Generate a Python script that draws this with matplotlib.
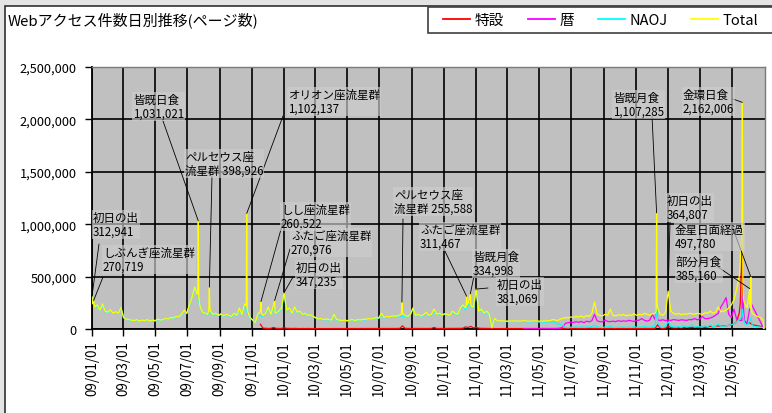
import matplotlib
matplotlib.use('Agg')
import matplotlib.pyplot as plt
import matplotlib.dates as mdates
from matplotlib.lines import Line2D
from matplotlib.patches import Rectangle
from matplotlib.ticker import FuncFormatter, MultipleLocator
import numpy as np
import pandas as pd

plt.rcParams['font.family'] = ['Noto Sans CJK JP', 'DejaVu Sans']

W, H = 772, 414

# ---- daily page-view data (thousands), sampled every 5 days ----
STEP = '5D'

total_start = '2009-01-01'
total_k = [
    313, 210, 230, 180, 240, 170, 160, 185, 150, 165,
    150, 205, 110, 95, 90, 85, 80, 90, 75, 85,
    80, 90, 75, 85, 80, 95, 85, 90, 100, 95,
    110, 105, 120, 115, 140, 180, 150, 230, 300, 400,
    330, 220, 160, 150, 140, 170, 140, 150, 130, 145,
    125, 140, 130, 120, 150, 130, 200, 140, 240, 160,
    110, 90, 60, 140, 170, 130, 150, 210, 140, 230,
    150, 170, 200, 347, 180, 200, 150, 210, 160, 170,
    140, 150, 130, 135, 120, 110, 95, 100, 90, 95,
    90, 85, 140, 90, 85, 80, 85, 80, 85, 90,
    80, 90, 85, 95, 90, 100, 95, 100, 110, 105,
    150, 110, 120, 115, 125, 120, 125, 135, 150, 130,
    120, 140, 200, 130, 140, 125, 135, 160, 130, 140,
    190, 140, 150, 135, 145, 140, 130, 170, 150, 140,
    200, 230, 200, 250, 240, 210, 381, 170, 190, 150,
    170, 140, 15, 100, 80, 75, 78, 75, 76, 75,
    78, 74, 76, 75, 80, 76, 74, 75, 76, 78,
    75, 76, 74, 80, 78, 90, 85, 80, 95, 100,
    110, 105, 115, 110, 120, 115, 125, 110, 130, 120,
    150, 258, 140, 130, 125, 140, 130, 190, 130, 125,
    135, 130, 140, 125, 135, 130, 145, 130, 140, 135,
    150, 140, 130, 145, 150, 200, 140, 130, 160, 365,
    170, 150, 140, 150, 135, 145, 140, 150, 145, 140,
    150, 145, 140, 155, 150, 170, 150, 160, 210, 165,
    170, 180, 200, 230, 280, 380, 500, 900, 250, 200,
    385, 150, 130, 120, 110, 90,
]
# single-day peaks (date, page views)
total_events = [
    ('2009-01-01', 312941), ('2009-01-02', 240000), ('2009-01-04', 270719),
    ('2009-07-21', 380000), ('2009-07-22', 1031021), ('2009-07-23', 300000),
    ('2009-08-11', 180000), ('2009-08-12', 398926), ('2009-08-13', 200000),
    ('2009-10-21', 220000), ('2009-10-22', 1102137), ('2009-10-23', 180000),
    ('2009-11-18', 260522), ('2009-11-19', 150000),
    ('2009-12-14', 270976), ('2009-12-15', 160000),
    ('2010-01-01', 347235),
    ('2010-08-12', 140000), ('2010-08-13', 255588), ('2010-08-14', 150000),
    ('2010-12-13', 220000), ('2010-12-14', 311467), ('2010-12-15', 230000),
    ('2010-12-21', 334998), ('2010-12-22', 220000),
    ('2011-01-01', 381069),
    ('2011-12-09', 170000), ('2011-12-10', 1107285), ('2011-12-11', 250000),
    ('2012-01-01', 364807),
    ('2012-05-16', 550000), ('2012-05-17', 650000), ('2012-05-18', 800000),
    ('2012-05-19', 850000), ('2012-05-20', 900000), ('2012-05-21', 2162006),
    ('2012-05-22', 450000), ('2012-05-23', 280000),
    ('2012-06-04', 385160), ('2012-06-05', 200000), ('2012-06-06', 497780),
    ('2012-06-07', 180000),
    ('2012-06-30', 60000), ('2012-07-01', 3000),
]

naoj_start = '2009-01-01'
naoj_k = [
    310, 207, 226, 177, 236, 167, 157, 182, 147, 162,
    147, 201, 107, 92, 87, 82, 77, 87, 72, 82,
    77, 87, 72, 82, 77, 92, 82, 87, 97, 92,
    107, 102, 117, 112, 137, 177, 147, 226, 296, 396,
    326, 216, 156, 146, 136, 166, 136, 146, 126, 141,
    121, 136, 126, 116, 146, 126, 196, 136, 236, 156,
    106, 86, 56, 136, 125, 122, 144, 205, 134, 215,
    144, 165, 195, 335, 174, 195, 145, 204, 155, 166,
    136, 146, 126, 131, 116, 106, 91, 96, 86, 91,
    86, 81, 136, 86, 81, 76, 81, 76, 82, 86,
    76, 86, 81, 91, 86, 96, 91, 96, 106, 101,
    145, 106, 115, 111, 121, 115, 120, 129, 120, 124,
    115, 135, 195, 125, 134, 120, 130, 155, 125, 135,
    175, 135, 145, 130, 140, 135, 125, 164, 145, 134,
    193, 223, 180, 235, 215, 200, 366, 164, 184, 144,
    165, 135, 10, 95, 76, 71, 74, 71, 72, 71,
    74, 70, 72, 71, 74, 70, 68, 70, 70, 72,
    66, 68, 64, 70, 66, 70, 60, 50, 40, 35,
    15, 12, 18, 14, 20, 16, 22, 14, 20, 18,
    25, 35, 20, 16, 14, 20, 18, 30, 16, 14,
    18, 16, 20, 14, 18, 16, 22, 16, 20, 18,
    24, 20, 16, 22, 24, 60, 20, 16, 24, 70,
    26, 20, 18, 22, 16, 30, 18, 24, 40, 18,
    22, 20, 18, 34, 22, 40, 22, 26, 50, 26,
    28, 30, 35, 40, 50, 70, 90, 120, 50, 35,
    80, 30, 25, 20, 18, 15,
]
naoj_events = [
    ('2011-12-10', 220000), ('2012-05-21', 190000), ('2012-06-06', 110000),
    ('2012-07-01', 0),
]

tokusetsu_start = '2009-11-17'
tokusetsu_k = [
    # 2009-11-17 .. 2009-12-27
    45, 8, 6, 5, 6, 15, 6, 5, 5,
    # 2010-01-01
    12,
    # 2010-01-06 .. 2010-02-25
    6, 5, 5, 6, 5, 4, 5, 4, 5, 4, 4,
    # 2010-03-02 .. 2010-06-30
    4, 4, 4, 5, 4, 4, 4, 4, 4, 3, 4, 4, 4,
    3, 4, 4, 4, 4, 4, 4, 4, 5, 4, 4, 4,
    # 2010-07-05 .. 2010-08-29
    5, 4, 5, 4, 4, 5, 5, 6, 30, 6, 5, 5,
    # 2010-09-03 .. 2010-12-02
    5, 5, 6, 5, 5, 5, 5, 5, 15, 5, 5, 5, 5, 5, 5, 6, 5, 5, 6, 7,
    # 2010-12-07 .. 2011-01-26
    20, 15, 25, 10, 15, 8, 6, 6, 6, 5,
    # 2011-01-31 .. 2011-06-15
    4, 4, 4, 4, 4, 4, 4, 4, 4, 4, 4, 4, 4, 4,
    4, 4, 4, 4, 4, 4, 4, 4, 4, 4, 4, 5, 5, 5,
    # 2011-06-20 .. 2011-12-02
    6, 5, 5, 8, 5, 5, 6, 5, 5, 8, 5, 5, 6, 5, 5, 6, 5,
    5, 6, 5, 6, 5, 6, 6, 5, 6, 6, 5, 6, 5, 6, 6, 5, 6,
    # 2011-12-07 .. 2011-12-27
    6, 40, 8, 6, 8,
    # 2012-01-01
    30,
    # 2012-01-06 .. 2012-04-25
    12, 10, 10, 12, 10, 12, 14, 12, 15, 14, 15, 16,
    18, 16, 20, 25, 22, 25, 30, 28, 32, 30, 35,
    # 2012-04-30 .. 2012-06-29
    40, 50, 70, 150, 700, 80, 50, 60, 40, 35, 30, 25, 20,
]
tokusetsu_events = [
    ('2012-05-17', 250000), ('2012-05-18', 420000), ('2012-05-19', 560000),
    ('2012-05-20', 740000), ('2012-05-21', 650000), ('2012-05-22', 150000),
    ('2012-07-01', 0),
]

koyomi_start = '2011-04-01'
koyomi_k = [
    2, 2, 2, 3, 2, 2, 2, 3, 2, 2,
    3, 2, 3, 5, 8, 20, 55, 60, 65, 62,
    70, 64, 72, 60, 75, 68, 80, 140, 78, 70,
    68, 85, 72, 70, 75, 70, 80, 72, 78, 74,
    82, 78, 72, 80, 85, 100, 82, 75, 85, 140,
    90, 85, 82, 88, 80, 85, 82, 90, 86, 82,
    88, 85, 82, 90, 88, 100, 88, 95, 120, 98,
    100, 105, 115, 130, 150, 210, 250, 300, 140, 110,
    190, 95, 85, 80, 75, 55,
]
koyomi_events = [
    ('2011-12-10', 200000), ('2012-05-21', 320000), ('2012-06-06', 250000),
    ('2012-07-01', 0),
]

series_names = ['特設', '暦', 'NAOJ', 'Total']
series_colors = ['#ff0000', '#ff00ff', '#00ffff', '#ffff00']

tick_dates = pd.date_range('2009-01-01', '2012-05-01', freq='2MS')

# annotation text, date of the peak, text anchor and leader start (px)
notes = [
    ('2009-01-01', '初日の出\n{v}', (93, 212), (99, 245)),
    ('2009-01-04', 'しぶんぎ座流星群\n{v}', (103, 247), (103, 278)),
    ('2009-07-22', '皆既日食\n{v}', (133, 94), (163, 122)),
    ('2009-08-12', 'ペルセウス座\n流星群 {v}', (185, 151), (212, 177)),
    ('2009-10-22', 'オリオン座流星群\n{v}', (288, 89), (283, 117)),
    ('2009-11-18', 'しし座流星群\n{v}', (281, 204), (283, 223)),
    ('2009-12-14', 'ふたご座流星群\n{v}', (291, 230), (290, 250)),
    ('2010-01-01', '初日の出\n{v}', (296, 262), (293, 278)),
    ('2010-08-13', 'ペルセウス座\n流星群 {v}', (394, 189), (403, 220)),
    ('2010-12-14', 'ふたご座流星群\n{v}', (420, 224), (443, 248)),
    ('2010-12-21', '皆既月食\n{v}', (473, 251), (474, 277)),
    ('2011-01-01', '初日の出\n{v}', (497, 279), (488, 289)),
    ('2011-12-10', '皆既月食\n{v}', (613, 92), (652, 117)),
    ('2012-01-01', '初日の出\n{v}', (667, 195), (670, 223)),
    ('2012-05-21', '金環日食\n{v}', (683, 89), (733, 100)),
    ('2012-06-06', '金星日面経過\n{v}', (675, 224), (732, 227)),
    ('2012-06-04', '部分月食\n{v}', (676, 256), (718, 268)),
]


def build(start, values_k, events):
    idx = pd.date_range(start, periods=len(values_k), freq=STEP)
    s = pd.Series(np.asarray(values_k, dtype=float) * 1000.0, index=idx)
    if events:
        e = pd.Series([v for _, v in events],
                      index=pd.to_datetime([d for d, _ in events]), dtype=float)
        s = pd.concat([s, e])
        s = s[~s.index.duplicated(keep='last')].sort_index()
    return s


s_tok = build(tokusetsu_start, tokusetsu_k, tokusetsu_events)
s_koy = build(koyomi_start, koyomi_k, koyomi_events)
s_naoj = build(naoj_start, naoj_k, naoj_events)
s_tot = build(total_start, total_k, total_events)

fig = plt.figure(figsize=(W / 100, H / 100), dpi=100)
fig.patch.set_facecolor('#e4e4e4')
fig.patches.append(Rectangle((4.5 / W, -0.01), 1.0, 1.01 - 6.5 / H, transform=fig.transFigure,
                             facecolor='white', edgecolor='#303030', lw=1.2, zorder=-10))

ax = fig.add_axes([92 / W, 1 - 330 / H, (765 - 92) / W, (330 - 68) / H])
ax.set_facecolor('#c0c0c0')

for s, name, col in zip([s_tok, s_koy, s_naoj, s_tot], series_names, series_colors):
    ax.plot(s.index, s.values, color=col, lw=0.9, label=name, zorder=3)

ax.set_xlim(pd.Timestamp('2009-01-01'), pd.Timestamp('2012-07-03'))
ax.set_ylim(0, 2500000)
ax.yaxis.set_major_locator(MultipleLocator(500000))
ax.yaxis.set_major_formatter(FuncFormatter(lambda v, p: f'{int(v):,}'))
ax.set_xticks(tick_dates)
ax.xaxis.set_major_formatter(mdates.DateFormatter('%y/%m/%d'))
ax.tick_params(axis='x', rotation=90, labelsize=9.6, length=5, width=1, pad=3)
ax.tick_params(axis='y', labelsize=9.2, length=5, width=1, pad=6)
ax.grid(True, color='black', lw=1.2)
ax.set_axisbelow(True)
for side in ('left', 'bottom'):
    ax.spines[side].set_color('black')
    ax.spines[side].set_linewidth(1.3)
for side in ('top', 'right'):
    ax.spines[side].set_color('#7a7a7a')
    ax.spines[side].set_linewidth(1.0)

fig.text(8 / W, 1 - 20 / H, 'Webアクセス件数日別推移(ページ数)', fontsize=10.8,
         va='center', ha='left')

for date, tmpl, (tx, ty), (lx, ly) in notes:
    d = pd.Timestamp(date)
    v = s_tot[d]
    fig.text(tx / W, 1 - ty / H, tmpl.format(v=f'{int(v):,}'), fontsize=8.3,
             va='top', ha='left', linespacing=1.1, zorder=6,
             bbox=dict(facecolor='#cdcdcd', edgecolor='none', alpha=0.65, pad=0.5))
    ax.annotate('', xy=(d, v), xycoords='data', xytext=(lx, H - ly),
                textcoords='figure pixels',
                arrowprops=dict(arrowstyle='-', color='black', lw=0.6,
                                shrinkA=0, shrinkB=0), zorder=5)

# legend box runs past the right edge of the picture
fig.patches.append(Rectangle((428 / W, 1 - 34 / H), 360 / W, 26 / H,
                             transform=fig.transFigure, facecolor='white',
                             edgecolor='#404040', lw=1.2, zorder=1))
handles = [Line2D([0], [0], color=c, lw=1.3) for c in series_colors]
leg = fig.legend(handles, series_names, ncol=4, loc='center left',
                 bbox_to_anchor=(443 / W, 1 - 21 / H), borderaxespad=0,
                 frameon=False, fontsize=10.5, borderpad=0, handlelength=1.85,
                 handletextpad=0.3, columnspacing=1.65)
leg.set_zorder(2)

fig.savefig('out.png', dpi=100)
